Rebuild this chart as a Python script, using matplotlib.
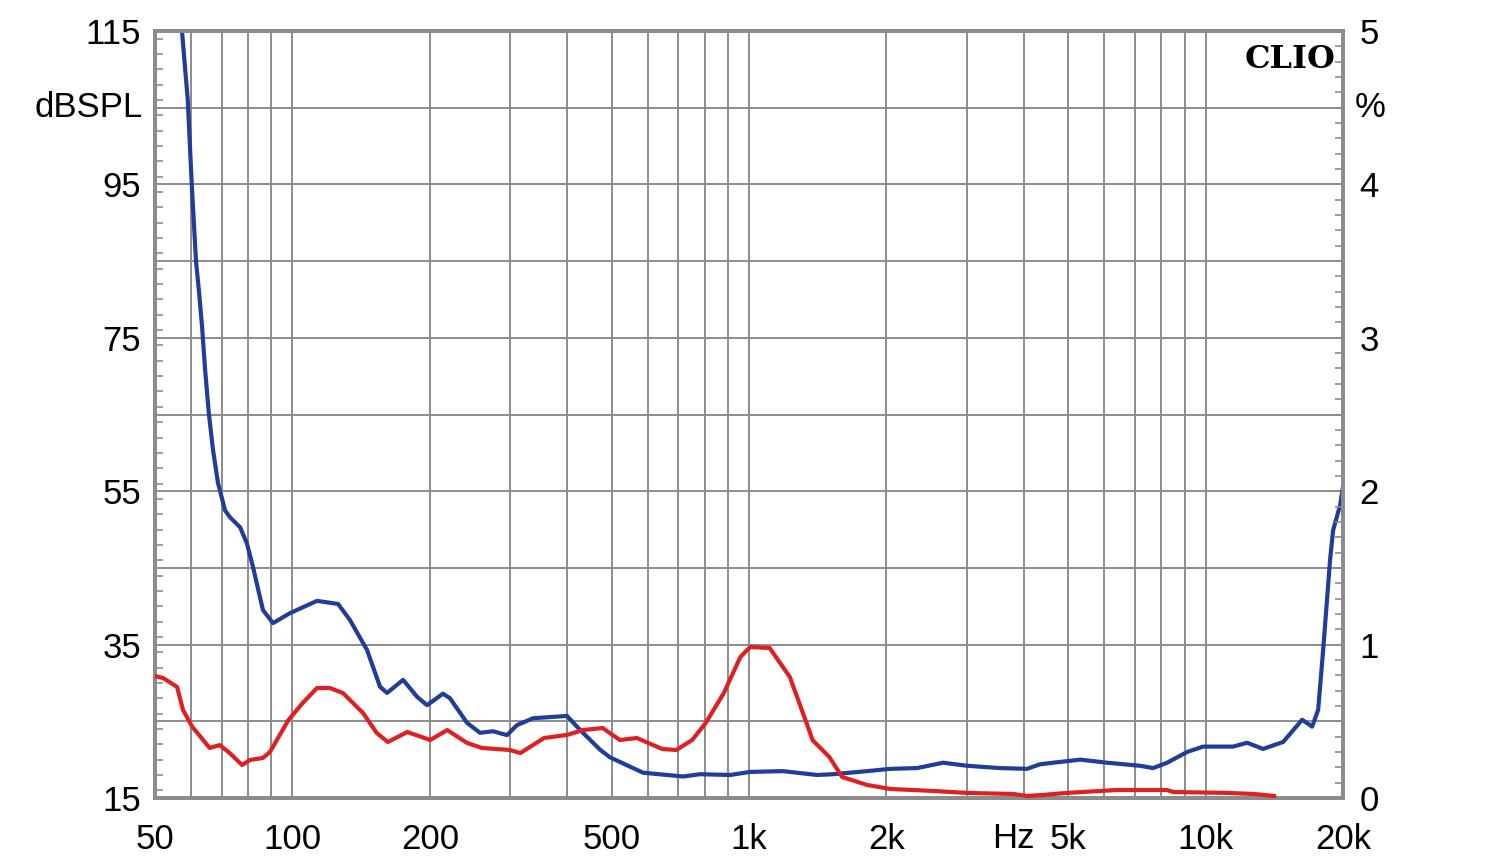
import numpy as np
import matplotlib
matplotlib.use("Agg")
import matplotlib.pyplot as plt
from matplotlib.ticker import FixedLocator, MultipleLocator

# frequency response (dB SPL, left axis)
spl_freq = [57.3, 59.0, 60.2, 61.5, 62.4, 63.4, 64.4, 65.6, 67.0, 68.7, 71.2, 73.0, 76.8, 79.5,
            82.0, 86.2, 90.7, 98.8, 113.2, 125.9, 133.7, 145.7, 155.6, 161.2, 174.8,
            187.5, 197.2, 213.7, 221.4, 241.3, 257.6, 275.1, 295.2, 310.4, 336.5,
            399.4, 420.0, 433.0, 471.9, 496.2, 586.0, 717.3, 781.5, 909.4, 1005.8,
            1187.5, 1409.6, 1528.2, 1814.5, 2038, 2335, 2662, 3003, 3548, 4066, 4340,
            5313, 6087, 7189, 7677, 8240, 9115, 9880, 11490, 12335, 13370, 14790,
            16280, 17120, 17650, 18100, 18740, 19030, 19720, 20000]
spl_db = [115.0, 106.0, 95.0, 85.0, 81.2, 76.5, 70.8, 65.2, 60.4, 56.1, 52.5, 51.6, 50.3, 48.2,
          45.1, 39.5, 37.8, 39.1, 40.7, 40.3, 38.2, 34.3, 29.5, 28.7, 30.4,
          28.2, 27.1, 28.6, 28.0, 24.8, 23.5, 23.7, 23.2, 24.5, 25.4,
          25.7, 24.3, 23.5, 21.3, 20.3, 18.3, 17.8, 18.1, 18.0, 18.4,
          18.5, 18.0, 18.1, 18.5, 18.8, 18.9, 19.6, 19.2, 18.9, 18.8, 19.4,
          20.0, 19.6, 19.2, 18.9, 19.6, 21.0, 21.7, 21.7, 22.2, 21.4, 22.3,
          25.2, 24.3, 26.5, 34.3, 46.0, 49.9, 53.2, 55.5]

# distortion (%, right axis)
thd_freq = [50.0, 52.1, 55.9, 57.6, 60.4, 65.9, 69.3, 72.9, 77.6, 80.8, 86.2, 89.3,
            98.0, 105.3, 113.2, 120.8, 129.1, 142.8, 153.0, 161.9, 178.5, 200.5,
            218.3, 241.3, 260.0, 299.5, 315.7, 355.8, 399.4, 433.0, 478.2, 521.6,
            568.1, 646.5, 693.3, 751.1, 803.9, 881.0, 957.6, 1005.8, 1110, 1229,
            1337, 1378, 1500, 1600, 1814, 2038, 2524, 3003, 3795, 4066, 4410, 4963,
            6381, 8240, 8500, 11170, 12760, 14140]
thd_pct = [0.795, 0.782, 0.724, 0.574, 0.463, 0.326, 0.345, 0.293, 0.215, 0.248, 0.261, 0.300,
           0.508, 0.619, 0.717, 0.717, 0.684, 0.554, 0.424, 0.365, 0.430, 0.378,
           0.443, 0.359, 0.326, 0.313, 0.293, 0.391, 0.411, 0.443, 0.456, 0.378,
           0.391, 0.319, 0.313, 0.378, 0.489, 0.684, 0.919, 0.984, 0.978, 0.789,
           0.489, 0.378, 0.267, 0.137, 0.085, 0.059, 0.046, 0.033, 0.026, 0.013, 0.020, 0.033,
           0.052, 0.052, 0.039, 0.033, 0.026, 0.013]

grid_freqs = [60, 70, 80, 90, 100, 200, 300, 400, 500, 600, 700, 800, 900,
              1000, 2000, 3000, 4000, 5000, 6000, 7000, 8000, 9000, 10000]
x_labels = {50: "50", 100: "100", 200: "200", 500: "500", 1000: "1k",
            2000: "2k", 5000: "5k", 10000: "10k", 20000: "20k"}

plt.rcParams['font.family'] = ['Liberation Sans', 'DejaVu Sans']
grey = "#8c8c8c"
fs = 25

fig = plt.figure(figsize=(15, 8.64), dpi=100)
ax = fig.add_axes([0.1033, 0.0764, 0.792, 0.8877])
ax.set_xscale("log")
ax.set_xlim(50, 20000)
ax.set_ylim(15, 115)

# grid
for f in grid_freqs:
    ax.axvline(f, color=grey, lw=1.4, zorder=1)
for v in range(25, 115, 10):
    ax.axhline(v, color=grey, lw=1.4, zorder=1)

ax.plot(spl_freq, spl_db, color="#1f3d99", lw=3, zorder=3)

# x ticks
ax.xaxis.set_major_locator(FixedLocator(list(x_labels.keys())))
ax.set_xticklabels(list(x_labels.values()))
ax.xaxis.set_minor_locator(FixedLocator([]))
ax.tick_params(axis="x", length=0, pad=18, labelsize=fs)
ax.text(3800, -0.053, "Hz", transform=ax.get_xaxis_transform(),
        ha="center", va="center", fontsize=fs)

# left y ticks
ax.set_yticks([15, 35, 55, 75, 95, 115])
ax.yaxis.set_minor_locator(MultipleLocator(2))
ax.tick_params(axis="y", which="major", length=0, pad=10, labelsize=fs)
ax.tick_params(axis="y", which="minor", direction="in", length=6, width=1.2, color=grey)
ax.text(-0.01, 105, "dBSPL", transform=ax.get_yaxis_transform(),
        ha="right", va="center", fontsize=fs)

# right axis in %
ax2 = ax.twinx()
ax2.set_ylim(0, 5)
ax2.plot(thd_freq, thd_pct, color="#e02020", lw=3, zorder=3)
ax2.set_yticks([0, 1, 2, 3, 4, 5])
ax2.yaxis.set_minor_locator(MultipleLocator(0.1))
ax2.tick_params(axis="y", which="major", length=0, pad=12, labelsize=fs)
ax2.tick_params(axis="y", which="minor", direction="in", length=6, width=1.2, color=grey)
ax2.text(1.01, 4.5, "%", transform=ax2.get_yaxis_transform(),
         ha="left", va="center", fontsize=fs)

for a in (ax, ax2):
    for s in a.spines.values():
        s.set_color(grey)
        s.set_linewidth(2.8)

ax2.text(0.994, 0.983, "CLIO", transform=ax2.transAxes, ha="right", va="top",
         fontsize=23, fontweight="bold", family="DejaVu Serif", zorder=5)

fig.savefig("out.png", dpi=100)
